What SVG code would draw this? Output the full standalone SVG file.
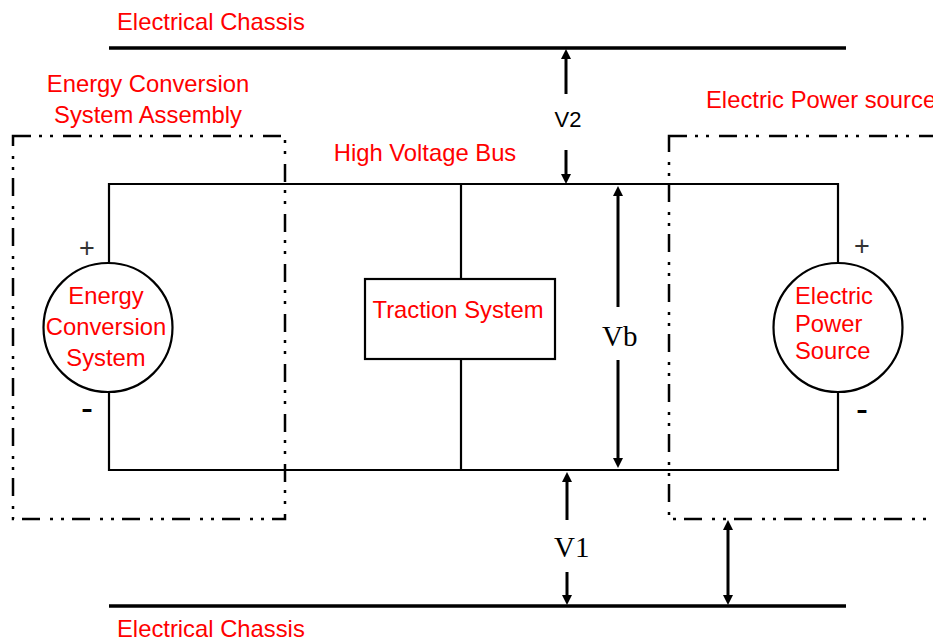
<svg xmlns="http://www.w3.org/2000/svg" width="933" height="641" viewBox="0 0 933 641">
<style>
.lbl{font-family:"Liberation Sans",Arial,sans-serif;font-size:23.8px;fill:#ff0000}
.wire{stroke:#000;stroke-width:2.2;fill:none}
.chassis{stroke:#000;stroke-width:3.5;fill:none}
.dash{stroke:#000;stroke-width:2.5;fill:none;stroke-dasharray:18 8 3 8 3 10}
.arr{stroke:#000;stroke-width:3;fill:none}
.head{fill:#000}
.pm{font-family:"Liberation Sans",Arial,sans-serif;font-size:27px;fill:#333;text-anchor:middle}
.mn{font-family:"Liberation Sans",Arial,sans-serif;font-size:36px;fill:#000;text-anchor:middle}
.v{font-family:"Liberation Serif","Times New Roman",serif;font-size:29px;fill:#000}
</style>
<rect width="933" height="641" fill="#fff"/>

<g id="chassis-top">
<line class="chassis" x1="109" y1="48" x2="846" y2="48"/>
<text class="lbl" x="117" y="30">Electrical Chassis</text>
</g>
<g id="chassis-bottom">
<line class="chassis" x1="109" y1="606" x2="846" y2="606"/>
<text class="lbl" x="117" y="637">Electrical Chassis</text>
</g>

<g id="ecs-assembly">
<rect class="dash" x="13" y="136" width="272" height="383"/>
<text class="lbl" x="148" y="92" text-anchor="middle">Energy Conversion</text>
<text class="lbl" x="148" y="123" text-anchor="middle">System Assembly</text>
</g>

<g id="eps-assembly">
<rect class="dash" x="669" y="136" width="300" height="383"/>
<text class="lbl" x="706" y="108">Electric Power source</text>
</g>

<g id="connectors">
<polyline class="wire" points="109,263 109,184 838,184 838,263"/>
<polyline class="wire" points="109,392 109,470 838,470 838,392"/>
<line class="wire" x1="461" y1="184" x2="461" y2="279"/>
<line class="wire" x1="461" y1="359" x2="461" y2="470"/>
</g>

<g id="hv-bus-label">
<text class="lbl" x="425" y="161" text-anchor="middle">High Voltage Bus</text>
</g>

<g id="ecs">
<circle cx="108" cy="327.5" r="64.5" fill="#fff" stroke="#000" stroke-width="2.2"/>
<text class="lbl" x="106" y="304" text-anchor="middle">Energy</text>
<text class="lbl" x="106" y="335" text-anchor="middle">Conversion</text>
<text class="lbl" x="106" y="366" text-anchor="middle">System</text>
<text class="pm" x="87" y="257">+</text>
<text class="mn" x="87" y="420">-</text>
</g>

<g id="eps">
<circle cx="838" cy="327.5" r="64.5" fill="#fff" stroke="#000" stroke-width="2.2"/>
<text class="lbl" x="795" y="304">Electric</text>
<text class="lbl" x="795" y="332">Power</text>
<text class="lbl" x="795" y="359">Source</text>
<text class="pm" x="862" y="255">+</text>
<text class="mn" x="862" y="421">-</text>
</g>

<g id="traction">
<rect x="365" y="279" width="190" height="80" fill="#fff" stroke="#000" stroke-width="2.2"/>
<text class="lbl" x="458" y="318" text-anchor="middle">Traction System</text>
</g>

<g id="v2">
<line class="arr" x1="566" y1="94" x2="566" y2="58"/>
<polygon class="head" points="561,59 571,59 566,49"/>
<line class="arr" x1="566" y1="150" x2="566" y2="175"/>
<polygon class="head" points="561,174 571,174 566,184"/>
<text x="568" y="127" text-anchor="middle" style="font-family:'Liberation Sans',Arial,sans-serif;font-size:22px;fill:#000">V2</text>
</g>

<g id="vb">
<line class="arr" x1="618" y1="307" x2="618" y2="195"/>
<polygon class="head" points="613,196 623,196 618,186"/>
<line class="arr" x1="618" y1="360" x2="618" y2="459"/>
<polygon class="head" points="613,458 623,458 618,468"/>
<text class="v" x="602" y="346">Vb</text>
</g>

<g id="v1">
<line class="arr" x1="567" y1="520" x2="567" y2="481"/>
<polygon class="head" points="562,482 572,482 567,472"/>
<line class="arr" x1="567" y1="572" x2="567" y2="596"/>
<polygon class="head" points="562,595 572,595 567,605"/>
<text class="v" x="554" y="557">V1</text>
</g>

<g id="v-eps">
<line class="arr" x1="728" y1="530" x2="728" y2="596"/>
<polygon class="head" points="723,530 733,530 728,520"/>
<polygon class="head" points="723,595 733,595 728,605"/>
</g>
</svg>
